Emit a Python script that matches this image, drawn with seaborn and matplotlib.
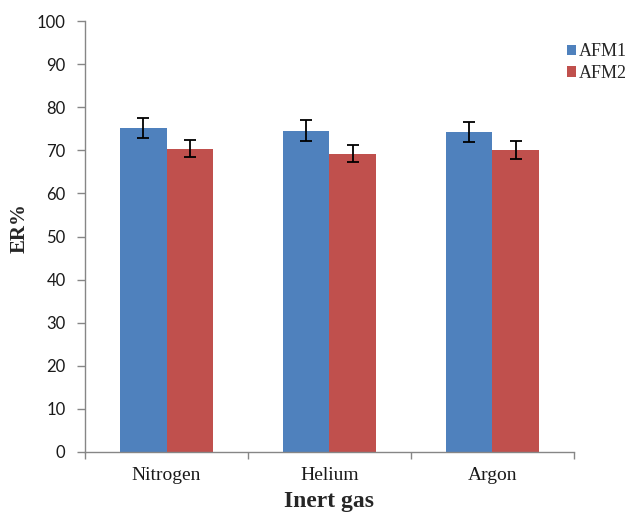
import matplotlib
matplotlib.use("Agg")
import matplotlib.pyplot as plt
import seaborn as sns
import pandas as pd
import numpy as np
from matplotlib.ticker import FixedLocator, MultipleLocator

categories = ["Nitrogen", "Helium", "Argon"]
series = ["AFM1", "AFM2"]
afm1 = [75.2, 74.6, 74.3]
afm2 = [70.4, 69.2, 70.1]
afm1_err = [2.4, 2.4, 2.4]
afm2_err = [2.0, 2.0, 2.0]
colors = ["#4F81BD", "#C0504D"]

df = pd.DataFrame({
    "gas": categories * 2,
    "series": [series[0]] * 3 + [series[1]] * 3,
    "value": afm1 + afm2,
    "err": afm1_err + afm2_err,
})

sns.set_theme(style="white")
plt.rcParams["font.family"] = ["Liberation Serif", "DejaVu Serif"]

fig = plt.figure(figsize=(6.30, 5.17), dpi=100)
ax = fig.add_axes([0.135, 0.126, 0.776, 0.833])

sns.barplot(data=df, x="gas", y="value", hue="series", order=categories,
            hue_order=series, palette=colors, width=0.57, errorbar=None,
            saturation=1, ax=ax, edgecolor="none", linewidth=0)

# error bars using bar positions from the library
for container, errs in zip(ax.containers, [afm1_err, afm2_err]):
    for patch, e in zip(container.patches, errs):
        xc = patch.get_x() + patch.get_width() / 2
        ax.errorbar(xc, patch.get_height(), yerr=e, fmt="none", ecolor="black",
                    elinewidth=1.3, capsize=4, capthick=1.3, zorder=5)

ax.set_ylim(0, 100)
ax.set_xlim(-0.5, 2.5)
ax.yaxis.set_major_locator(MultipleLocator(10))
for s in ["top", "right"]:
    ax.spines[s].set_visible(False)
for s in ["left", "bottom"]:
    ax.spines[s].set_color("#868686")
    ax.spines[s].set_linewidth(1.0)

ax.tick_params(axis="y", which="major", direction="out", length=6, width=1,
               color="#868686", left=True, labelsize=12, pad=8,
               labelcolor="#1a1a1a")
for lbl in ax.get_yticklabels():
    lbl.set_fontfamily(["Lato", "DejaVu Sans"])
ax.tick_params(axis="x", which="major", length=0, labelsize=14, pad=11,
               labelcolor="#1a1a1a")
ax.xaxis.set_minor_locator(FixedLocator([-0.5, 0.5, 1.5, 2.5]))
ax.tick_params(axis="x", which="minor", direction="out", length=5, width=1,
               color="#868686", bottom=True)

ax.set_xlabel("Inert gas", fontsize=17, fontweight="bold", labelpad=5)
ax.set_ylabel("ER%", fontsize=15, fontweight="bold")
ax.yaxis.set_label_coords(-0.113, 0.52)

handles, labels = ax.get_legend_handles_labels()
ax.legend(handles, labels, loc="upper left", bbox_to_anchor=(0.888, 0.93),
          bbox_transform=fig.transFigure, frameon=False, fontsize=13,
          handlelength=0.5, handleheight=0.5, handletextpad=0.15,
          labelspacing=0.25, borderaxespad=0)

fig.savefig("out.png", dpi=100)
